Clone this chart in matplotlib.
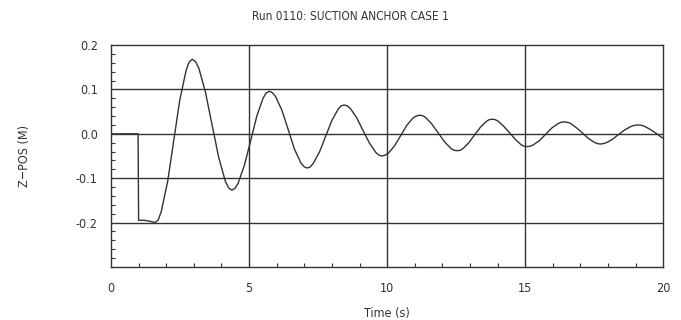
import matplotlib
matplotlib.use('Agg')
import matplotlib.pyplot as plt
from matplotlib.ticker import MultipleLocator

# time (s) and z-position (m)
time_s = [0.0, 0.98, 1.0, 1.2, 1.4, 1.6,
          1.71, 1.82, 2.05, 2.27, 2.49, 2.72, 2.83, 2.94,
          3.06, 3.18, 3.42, 3.66, 3.90, 4.14, 4.26, 4.38,
          4.49, 4.60, 4.83, 5.06, 5.28, 5.51, 5.62, 5.73,
          5.84, 5.96, 6.19, 6.42, 6.64, 6.87, 6.99, 7.10,
          7.21, 7.32, 7.55, 7.77, 7.99, 8.22, 8.33, 8.44,
          8.56, 8.67, 8.90, 9.13, 9.36, 9.59, 9.70, 9.82,
          9.93, 10.04, 10.27, 10.49, 10.71, 10.94, 11.05, 11.16,
          11.28, 11.39, 11.62, 11.85, 12.08, 12.31, 12.42, 12.54,
          12.65, 12.75, 12.96, 13.17, 13.38, 13.59, 13.70, 13.80,
          13.91, 14.01, 14.22, 14.44, 14.65, 14.86, 14.96, 15.07,
          15.18, 15.29, 15.52, 15.74, 15.96, 16.19, 16.30, 16.41,
          16.52, 16.63, 16.85, 17.07, 17.28, 17.50, 17.61, 17.72,
          17.83, 17.94, 18.17, 18.39, 18.61, 18.84, 18.95, 19.06,
          19.17, 19.28, 19.50, 19.72, 19.94, 20.0]
z_pos = [0.0, 0.0, -0.195, -0.195, -0.197, -0.2,
         -0.194, -0.175, -0.108, -0.016, 0.076, 0.143, 0.162, 0.168,
         0.163, 0.148, 0.094, 0.020, -0.053, -0.107, -0.122, -0.127,
         -0.123, -0.112, -0.071, -0.015, 0.040, 0.081, 0.092, 0.096,
         0.093, 0.084, 0.053, 0.009, -0.034, -0.065, -0.074, -0.077,
         -0.075, -0.067, -0.041, -0.006, 0.029, 0.055, 0.063, 0.065,
         0.063, 0.057, 0.036, 0.007, -0.021, -0.042, -0.048, -0.050,
         -0.048, -0.044, -0.027, -0.004, 0.019, 0.036, 0.040, 0.042,
         0.041, 0.037, 0.022, 0.002, -0.018, -0.033, -0.037, -0.038,
         -0.037, -0.033, -0.020, -0.002, 0.015, 0.028, 0.032, 0.033,
         0.032, 0.029, 0.017, 0.002, -0.013, -0.025, -0.028, -0.029,
         -0.028, -0.025, -0.015, -0.001, 0.013, 0.023, 0.026, 0.027,
         0.026, 0.024, 0.014, 0.002, -0.010, -0.019, -0.022, -0.023,
         -0.022, -0.020, -0.012, -0.001, 0.009, 0.017, 0.019, 0.020,
         0.0195, 0.018, 0.011, 0.002, -0.008, -0.010]

x_ticks = [0, 5, 10, 15, 20]
y_ticks = [-0.2, -0.1, 0.0, 0.1, 0.2]

plt.rcParams['font.family'] = ['DejaVu Sans']
plt.rcParams['font.stretch'] = 'condensed'
ink = '#333333'
txt = '#333333'

fig = plt.figure(figsize=(6.81, 3.2), dpi=100)
ax = fig.add_axes([0.163, 0.166, 0.811, 0.693])

# grid lines like the original plot
for xv in x_ticks[1:-1]:
    ax.axvline(xv, color=ink, lw=1.0, zorder=1)
for yv in y_ticks[:-1]:
    ax.axhline(yv, color=ink, lw=1.0, zorder=1)

ax.plot(time_s, z_pos, color=ink, lw=1.0, zorder=2, solid_joinstyle='round')

ax.set_xlim(0, 20)
ax.set_ylim(-0.3, 0.2)
ax.set_xticks(x_ticks)
ax.set_yticks(y_ticks)
ax.set_xticklabels([str(v) for v in x_ticks])
ax.set_yticklabels(['%.1f' % v if v != 0 else '0.0' for v in y_ticks])
ax.xaxis.set_minor_locator(MultipleLocator(1))
ax.yaxis.set_minor_locator(MultipleLocator(0.02))
ax.tick_params(which='both', direction='in', colors=ink, labelcolor=txt, labelsize=9)
ax.tick_params(axis='x', which='major', length=0, pad=11)
ax.tick_params(axis='y', which='major', length=0, pad=9.5)
ax.tick_params(which='minor', length=3, width=0.8)
ax.tick_params(top=False, right=False)
for s in ax.spines.values():
    s.set_color(ink)
    s.set_linewidth(1.0)

ax.set_xlabel('Time (s)', fontsize=9, color=txt, labelpad=8.5)
ax.set_ylabel('Z\u2212POS (M)', fontsize=9, color=txt, labelpad=32)
fig.text(350 / 681, 1 - 17 / 320, 'Run 0110: SUCTION ANCHOR CASE 1',
         ha='center', va='center', fontsize=8.5, color=txt)

fig.savefig('out.png', dpi=100)
